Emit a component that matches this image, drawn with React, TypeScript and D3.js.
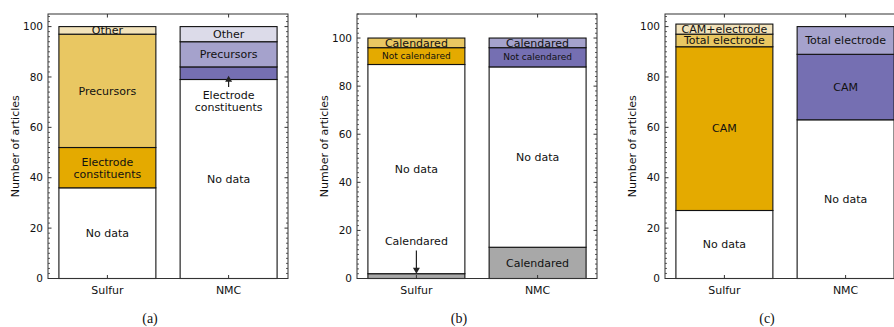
import React from 'react';
import * as d3 from 'd3';

const categories = ['Sulfur', 'NMC'];
const yTicks = [0, 20, 40, 60, 80, 100];

// panel (a)
const aNoData = [36, 79];
const aElectrode = [16, 5];
const aPrecursors = [45, 10];
const aOther = [3, 6];

// panel (b)
const bCalendaredLow = [2, 13];
const bNoData = [87, 75];
const bNotCalendared = [7, 8];
const bCalendaredTop = [4, 4];

// panel (c)
const cNoData = [27, 63];
const cCAM = [65, 26];
const cTotal = [5, 11];
const cBoth = [4, 0];

const sulfurCols = ['#e4aa00', '#e9c762', '#f2e3bb'];
const nmcCols = ['#756fb2', '#a5a2cc', '#dcdbe9'];
const grey = '#a8a8a8';

type Seg = { values: number[]; fill: (i: number) => string; label: (i: number) => string | null; size?: number };

const panelA: Seg[] = [
  { values: aNoData, fill: () => '#ffffff', label: () => 'No data' },
  { values: aElectrode, fill: i => (i === 0 ? sulfurCols[0] : nmcCols[0]), label: i => (i === 0 ? 'Electrode\nconstituents' : null) },
  { values: aPrecursors, fill: i => (i === 0 ? sulfurCols[1] : nmcCols[1]), label: () => 'Precursors' },
  { values: aOther, fill: i => (i === 0 ? sulfurCols[2] : nmcCols[2]), label: () => 'Other' },
];
const panelB: Seg[] = [
  { values: bCalendaredLow, fill: () => grey, label: i => (i === 1 ? 'Calendared' : null) },
  { values: bNoData, fill: () => '#ffffff', label: () => 'No data' },
  { values: bNotCalendared, fill: i => (i === 0 ? sulfurCols[0] : nmcCols[0]), label: () => 'Not calendared', size: 9 },
  { values: bCalendaredTop, fill: i => (i === 0 ? sulfurCols[1] : nmcCols[1]), label: () => 'Calendared' },
];
const panelC: Seg[] = [
  { values: cNoData, fill: () => '#ffffff', label: () => 'No data' },
  { values: cCAM, fill: i => (i === 0 ? sulfurCols[0] : nmcCols[0]), label: () => 'CAM' },
  { values: cTotal, fill: i => (i === 0 ? sulfurCols[1] : nmcCols[1]), label: () => 'Total electrode' },
  { values: cBoth, fill: i => (i === 0 ? sulfurCols[2] : nmcCols[2]), label: i => (i === 0 ? 'CAM+electrode' : null) },
];

const FONT = 'DejaVu Sans, sans-serif';
const top = 14;
const bottom = 278.5;
const W = 240;

type Note = { bar: number; text: string[]; textAt: number; from: number; to: number };

const Panel = ({ left, ymax, segs, caption, note }: { left: number; ymax: number; segs: Seg[]; caption: string; note?: Note }) => {
  const x = d3.scaleLinear().domain([-0.49, 1.49]).range([left, left + W]);
  const y = d3.scaleLinear().domain([0, ymax]).range([bottom, top]);
  const bw = x(0.8) - x(0);
  const minor = d3.range(0, ymax + 0.001, 2).filter(v => v % 20 !== 0);
  const rects: JSX.Element[] = [];
  const labels: JSX.Element[] = [];
  categories.forEach((c, i) => {
    let base = 0;
    segs.forEach((s, k) => {
      const v = s.values[i];
      if (v > 0) {
        rects.push(
          <rect key={`r${i}-${k}`} x={x(i) - bw / 2} y={y(base + v)} width={bw} height={y(base) - y(base + v)}
            fill={s.fill(i)} stroke="#111" strokeWidth={1.1} />
        );
        const lab = s.label(i);
        if (lab) {
          const lines = lab.split('\n');
          const cy = y(base + v / 2);
          lines.forEach((ln, j) => {
            labels.push(
              <text key={`t${i}-${k}-${j}`} x={x(i)} y={cy + (j - (lines.length - 1) / 2) * 12} dy="0.35em"
                textAnchor="middle" fontSize={s.size ?? 11} fill="#111">{ln}</text>
            );
          });
        }
      }
      base += v;
    });
  });
  const down = note ? note.to < note.from : false;
  return (
    <g fontFamily={FONT}>
      {rects}
      {labels}
      {note && (
        <g>
          {note.text.map((t, j) => (
            <text key={j} x={x(note.bar)} y={y(note.textAt) + j * 12} dy="0.35em" textAnchor="middle" fontSize={11} fill="#111">{t}</text>
          ))}
          <line x1={x(note.bar)} x2={x(note.bar)} y1={y(note.from)} y2={y(note.to) + (down ? -5 : 5)} stroke="#222" strokeWidth={1.2} />
          <path d={down
            ? `M${x(note.bar) - 3.5},${y(note.to) - 6}L${x(note.bar) + 3.5},${y(note.to) - 6}L${x(note.bar)},${y(note.to)}Z`
            : `M${x(note.bar) - 3.5},${y(note.to) + 6}L${x(note.bar) + 3.5},${y(note.to) + 6}L${x(note.bar)},${y(note.to)}Z`} fill="#222" />
        </g>
      )}
      {/* spines */}
      <rect x={left} y={top} width={W} height={bottom - top} fill="none" stroke="#333" strokeWidth={1} />
      {yTicks.map(t => (
        <g key={t}>
          <line x1={left} x2={left + 3.5} y1={y(t)} y2={y(t)} stroke="#333" />
          <line x1={left + W} x2={left + W - 3.5} y1={y(t)} y2={y(t)} stroke="#333" />
          <text x={left - 5} y={y(t)} dy="0.35em" textAnchor="end" fontSize={10.5} fill="#111">{t}</text>
        </g>
      ))}
      {minor.map(t => (
        <g key={`m${t}`}>
          <line x1={left} x2={left + 2} y1={y(t)} y2={y(t)} stroke="#333" strokeWidth={0.8} />
          <line x1={left + W} x2={left + W - 2} y1={y(t)} y2={y(t)} stroke="#333" strokeWidth={0.8} />
        </g>
      ))}
      {categories.map((c, i) => (
        <g key={c}>
          <line x1={x(i)} x2={x(i)} y1={bottom} y2={bottom - 3.5} stroke="#333" />
          <line x1={x(i)} x2={x(i)} y1={top} y2={top + 3.5} stroke="#333" />
          <text x={x(i)} y={bottom + 12} dy="0.35em" textAnchor="middle" fontSize={11} fill="#111">{c}</text>
        </g>
      ))}
      <text transform={`translate(${left - 33},${(top + bottom) / 2}) rotate(-90)`} dy="0.35em" textAnchor="middle" fontSize={11} fill="#111">Number of articles</text>
      <text x={left + W / 2 - 18} y={318} dy="0.35em" textAnchor="middle" fontFamily="Liberation Serif, serif" fontSize={14} fill="#111">{caption}</text>
    </g>
  );
};

export default function App() {
  return (
    <svg width={894} height={327} style={{ position: 'absolute', left: 0, top: 0, background: '#fff' }}>
      <Panel left={48} ymax={105} segs={panelA} caption="(a)"
        note={{ bar: 1, text: ['Electrode', 'constituents'], textAt: 72.6, from: 76, to: 80.5 }} />
      <Panel left={357} ymax={110} segs={panelB} caption="(b)"
        note={{ bar: 0, text: ['Calendared'], textAt: 15.6, from: 11.6, to: 2 }} />
      <Panel left={665} ymax={105} segs={panelC} caption="(c)" />
    </svg>
  );
}
